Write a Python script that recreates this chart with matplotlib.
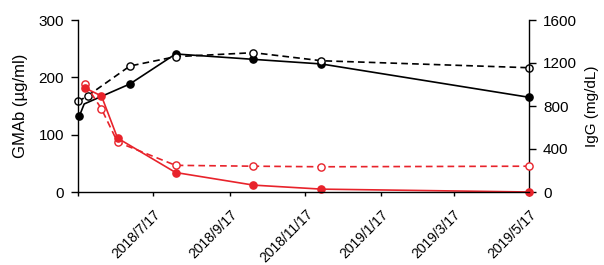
import matplotlib
matplotlib.use("Agg")
import matplotlib.pyplot as plt
import pandas as pd

plt.rcParams['font.family'] = ['Liberation Sans', 'DejaVu Sans']

# IgG (right axis), black
igg_solid_dates = ["2018-05-18", "2018-05-22", "2018-06-28", "2018-08-04", "2018-10-06", "2018-11-30", "2019-05-17"]
igg_solid_vals = [704, 819, 1005, 1284, 1234, 1191, 881]
igg_solid_marked = [0, 2, 3, 4, 5, 6]

igg_dash_dates = ["2018-05-17", "2018-05-25", "2018-06-28", "2018-08-04", "2018-10-06", "2018-11-30", "2019-05-17"]
igg_dash_vals = [842, 896, 1172, 1259, 1296, 1221, 1156]

# GMAb (left axis), red
gmab_solid_dates = ["2018-05-23", "2018-06-05", "2018-06-18", "2018-08-04", "2018-10-06", "2018-11-30", "2019-05-17"]
gmab_solid_vals = [181, 167.5, 94, 34, 12, 5, 0]

gmab_dash_dates = ["2018-05-23", "2018-06-05", "2018-06-18", "2018-08-04", "2018-10-06", "2018-11-30", "2019-05-17"]
gmab_dash_vals = [188, 145, 87, 46.5, 45, 44, 45]

tick_dates = ["2018-05-17", "2018-07-17", "2018-09-17", "2018-11-17", "2019-01-17", "2019-03-17", "2019-05-17"]
tick_labels = ["", "2018/7/17", "2018/9/17", "2018/11/17", "2019/1/17", "2019/3/17", "2019/5/17"]

left_ticks = [0, 100, 200, 300]
right_ticks = [0, 400, 800, 1200, 1600]

RED = '#e8232b'

fig = plt.figure(figsize=(6.04, 2.65), dpi=100)
ax = fig.add_axes([78/604, 1-192/265, (529-78)/604, (192-20)/265])
ax2 = ax.twinx()

td = pd.to_datetime

ax2.plot(td(igg_solid_dates), igg_solid_vals, color='black', lw=1.2, marker='o', ms=5.2,
         mfc='black', mec='black', markevery=igg_solid_marked, clip_on=False)
ax2.plot(td(igg_dash_dates), igg_dash_vals, color='black', lw=1.2, marker='o', ms=5.2,
         mfc='white', mec='black', mew=1.0, dashes=(4, 2.5), clip_on=False)

ax.plot(td(gmab_dash_dates), gmab_dash_vals, color=RED, lw=1.2, marker='o', ms=5.2,
        mfc='white', mec=RED, mew=1.0, dashes=(4, 2.5), clip_on=False)
ax.plot(td(gmab_solid_dates), gmab_solid_vals, color=RED, lw=1.2, marker='o', ms=5.2,
        mfc=RED, mec=RED, clip_on=False)

ax.set_zorder(ax2.get_zorder() + 1)
ax.patch.set_visible(False)

ax.set_xlim(td("2018-05-17"), td("2019-05-17"))
ax.set_ylim(0, 300)
ax2.set_ylim(0, 1600)
ax.set_yticks(left_ticks)
ax2.set_yticks(right_ticks)
ax.set_xticks(td(tick_dates))
ax.set_xticklabels(tick_labels, rotation=45, ha='right', rotation_mode='anchor', fontsize=10)

for a in (ax, ax2):
    a.spines['top'].set_visible(False)
    for s in a.spines.values():
        s.set_linewidth(1.0)
ax.spines['right'].set_visible(False)
ax2.spines['left'].set_visible(False)
ax2.spines['bottom'].set_visible(False)

ax.tick_params(axis='y', direction='out', length=5, width=1, labelsize=11, pad=5)
ax.tick_params(axis='x', direction='out', length=3, width=1, labelsize=10, pad=8)
ax2.tick_params(axis='y', direction='out', length=5, width=1, labelsize=11, pad=5)

ax.set_ylabel("GMAb (µg/ml)", fontsize=12, labelpad=8)
ax2.set_ylabel("IgG (mg/dL)", fontsize=11, labelpad=6)

fig.savefig("out.png", dpi=100)
